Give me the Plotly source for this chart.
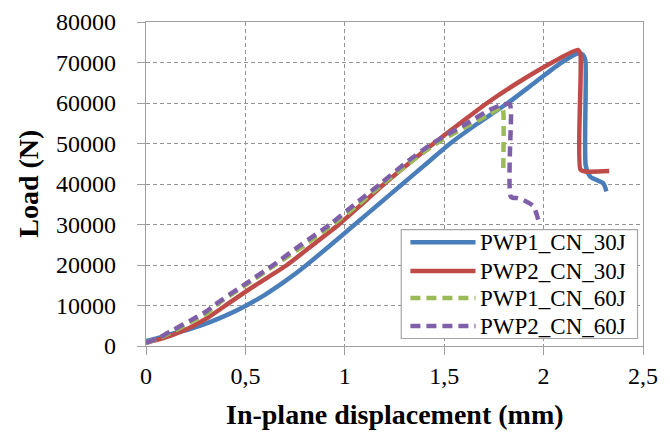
import plotly.graph_objects as go

# ---- data ----
names = ["PWP1_CN_30J", "PWP2_CN_30J", "PWP1_CN_60J", "PWP2_CN_60J"]

x_pwp1_30 = [0, 0.05, 0.138, 0.22, 0.305, 0.4, 0.5, 0.6, 0.7, 0.8, 0.93, 1.05, 1.17, 1.29,
             1.41, 1.53, 1.67, 1.82, 1.955, 2.09, 2.177, 2.198, 2.21, 2.212, 2.235, 2.30, 2.316]
y_pwp1_30 = [1200, 1800, 3100, 4200, 5600, 7500, 9900, 12700, 16000, 19700, 25000, 30000, 35000, 40000,
             45000, 50000, 55000, 60000, 65000, 70000, 72300, 71900, 70500, 44500, 41800, 40200, 38200]

x_pwp2_30 = [0, 0.07, 0.138, 0.22, 0.305, 0.4, 0.55, 0.709, 0.84, 0.97, 1.085, 1.198, 1.32,
             1.447, 1.58, 1.716, 1.87, 2.043, 2.172, 2.185, 2.185, 2.21, 2.33]
y_pwp2_30 = [800, 1700, 2800, 4500, 6800, 10000, 15000, 20000, 25000, 30000, 35000, 40000, 45000,
             50000, 55000, 60000, 65000, 70000, 73100, 72000, 43600, 43100, 43200]

x_pwp1_60 = [0, 0.06, 0.138, 0.22, 0.305, 0.35, 0.5, 0.65, 0.8, 0.94, 1.07, 1.19, 1.32,
             1.46, 1.598, 1.732, 1.79, 1.797, 1.797]
y_pwp1_60 = [800, 1800, 3600, 5800, 8000, 10000, 15000, 20000, 25000, 30000, 35000, 40000, 45000,
             50000, 53800, 57300, 59000, 58000, 42600]

x_pwp2_60 = [0, 0.06, 0.138, 0.22, 0.305, 0.34, 0.49, 0.64, 0.78, 0.925, 1.05, 1.178, 1.30,
             1.44, 1.598, 1.732, 1.80, 1.83, 1.836, 1.836, 1.87, 1.90, 1.95, 1.965, 1.975]
y_pwp2_60 = [800, 1900, 4000, 6200, 8600, 10000, 15000, 20000, 25000, 30000, 35000, 40000, 45000,
             50000, 54500, 58400, 59700, 59700, 58000, 36800, 36500, 36000, 34500, 32500, 30800]

x_tickvals = [0, 0.5, 1, 1.5, 2, 2.5]
x_ticktext = ["0", "0,5", "1", "1,5", "2", "2,5"]
y_tickvals = [0, 10000, 20000, 30000, 40000, 50000, 60000, 70000, 80000]
y_ticktext = [str(v) for v in y_tickvals]

colors = ["#4A7EBB", "#BE4B48", "#9BBB59", "#7F5FA8"]
dashes = ["solid", "solid", "10px,6px", "10px,6px"]

series = [(x_pwp1_30, y_pwp1_30), (x_pwp2_30, y_pwp2_30),
          (x_pwp1_60, y_pwp1_60), (x_pwp2_60, y_pwp2_60)]

FONT = "Liberation Serif"
AXIS_GREY = "#A0A0A0"

fig = go.Figure()
for (xs, ys), name, c, d in zip(series, names, colors, dashes):
    fig.add_trace(go.Scatter(x=xs, y=ys, mode="lines", name=name,
                             line=dict(color=c, width=4.5, dash=d, shape="spline", smoothing=0.6),
                             showlegend=False))

# y tick labels, placed at the y-axis values with a wider gap from the axis
for v, t in zip(y_tickvals, y_ticktext):
    fig.add_annotation(xref="paper", yref="y", x=-0.0564, y=v, text=t, showarrow=False,
                       xanchor="right", yanchor="middle",
                       font=dict(family=FONT, size=24, color="black"))

# manual legend (box + line samples + labels), in paper coordinates
lx0, lx1, ly0, ly1 = 0.5136, 0.989, 0.0231, 0.359
fig.add_shape(type="rect", xref="paper", yref="paper", x0=lx0, x1=lx1, y0=ly0, y1=ly1,
              line=dict(color="#A6A6A6", width=1.2), fillcolor="white", layer="above")
row_y = [0.3206, 0.2311, 0.1479, 0.0616]
for name, c, d, ry in zip(names, colors, dashes, row_y):
    fig.add_shape(type="line", xref="paper", yref="paper", x0=0.532, x1=0.663, y0=ry, y1=ry,
                  line=dict(color=c, width=4.5, dash=d), layer="above")
    fig.add_annotation(xref="paper", yref="paper", x=0.668, y=ry, text=name, showarrow=False,
                       xanchor="left", yanchor="middle",
                       font=dict(family=FONT, size=23, color="black"))

# axis titles as annotations (exact placement)
fig.add_annotation(xref="paper", yref="paper", x=-0.238, y=0.5, text="<b>Load (N)</b>",
                   textangle=-90, showarrow=False, xanchor="center", yanchor="middle",
                   font=dict(family=FONT, size=28, color="black"))
fig.add_annotation(xref="paper", yref="paper", x=0.5, y=-0.211,
                   text="<b>In-plane displacement (mm)</b>",
                   showarrow=False, xanchor="center", yanchor="middle",
                   font=dict(family=FONT, size=28, color="black"))

axis_common = dict(showline=True, linecolor=AXIS_GREY, linewidth=1.3, mirror=True,
                   ticks="outside", ticklen=8, tickcolor=AXIS_GREY, tickwidth=1.3,
                   showgrid=True, gridcolor="#949494", gridwidth=1, griddash="4px,3px",
                   zeroline=False, automargin=False,
                   tickfont=dict(family=FONT, size=24, color="black"))

fig.update_xaxes(range=[0, 2.5], tickvals=x_tickvals, ticktext=x_ticktext, **axis_common)
fig.update_yaxes(range=[0, 80000], tickvals=y_tickvals, showticklabels=False, **axis_common)

fig.update_layout(width=670, height=432,
                  margin=dict(l=146, r=27, t=22, b=86),
                  paper_bgcolor="white", plot_bgcolor="white",
                  font=dict(family=FONT, color="black"))

fig.write_html("out.html")
